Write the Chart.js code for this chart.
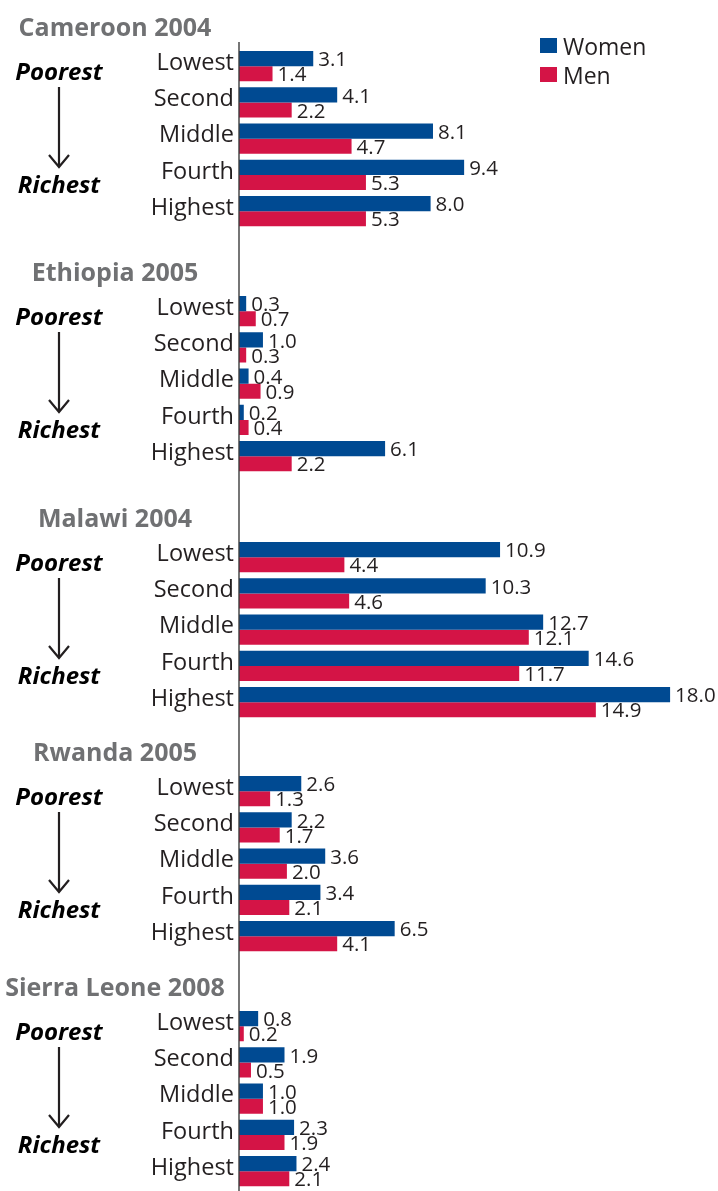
<!DOCTYPE html>
<html>
<head>
<meta charset="utf-8">
<script src="https://cdn.jsdelivr.net/npm/chart.js@4.4.1/dist/chart.umd.min.js"></script>
<style>
  html, body { margin: 0; padding: 0; background: #fff; }
  #wrap { position: relative; width: 718px; height: 1191px; overflow: hidden; }
  .block { position: absolute; left: 0; }
  .legend { position: absolute; left: 540px; top: 31px; font-family: 'Open Sans', sans-serif; font-size: 23px; color: #231f20; }
  .legend div { display: flex; align-items: center; height: 29px; }
  .legend .box { width: 17px; height: 15px; margin-right: 6px; }
</style>
</head>
<body>
<div id="wrap"></div>
<script>
// Données
const quintiles = ['Lowest', 'Second', 'Middle', 'Fourth', 'Highest'];
const countries = ['Cameroon 2004', 'Ethiopia 2005', 'Malawi 2004', 'Rwanda 2005', 'Sierra Leone 2008'];
const seriesNames = ['Women', 'Men'];

const cameroonWomen = [3.1, 4.1, 8.1, 9.4, 8.0];
const cameroonMen = [1.4, 2.2, 4.7, 5.3, 5.3];
const ethiopiaWomen = [0.3, 1.0, 0.4, 0.2, 6.1];
const ethiopiaMen = [0.7, 0.3, 0.9, 0.4, 2.2];
const malawiWomen = [10.9, 10.3, 12.7, 14.6, 18.0];
const malawiMen = [4.4, 4.6, 12.1, 11.7, 14.9];
const rwandaWomen = [2.6, 2.2, 3.6, 3.4, 6.5];
const rwandaMen = [1.3, 1.7, 2.0, 2.1, 4.1];
const sierraLeoneWomen = [0.8, 1.9, 1.0, 2.3, 2.4];
const sierraLeoneMen = [0.2, 0.5, 1.0, 1.9, 2.1];

const xTicks = [0, 20];

// Estilo
const FONT = "'Open Sans', sans-serif";
const INK = '#231f20';
const WOMEN_COLOR = '#004a92';
const MEN_COLOR = '#d41446';
const PLOT_TOP = 48;
const PLOT_HEIGHT = 181.25;

const groups = [
    { title: countries[0], women: cameroonWomen, men: cameroonMen },
    { title: countries[1], women: ethiopiaWomen, men: ethiopiaMen },
    { title: countries[2], women: malawiWomen, men: malawiMen },
    { title: countries[3], women: rwandaWomen, men: rwandaMen },
    { title: countries[4], women: sierraLeoneWomen, men: sierraLeoneMen }
];

// posição dos blocos na página
const blockTops = [0, 245, 491, 725, 960];
const blockHeights = [245, 246, 234, 235, 231];

// linha vertical do eixo, na altura toda do bloco
const axisLine = {
    id: 'axisLine',
    afterDatasetsDraw(chart, args, opts) {
        const ctx = chart.ctx;
        const x = chart.scales.x.getPixelForValue(0);
        ctx.save();
        ctx.strokeStyle = '#3c3c3c';
        ctx.lineWidth = 1.4;
        ctx.beginPath();
        ctx.moveTo(x, opts.from || 0);
        ctx.lineTo(x, chart.height);
        ctx.stroke();
        ctx.restore();
    }
};

// rótulos de valor no fim das barras
const valueLabels = {
    id: 'valueLabels',
    afterDatasetsDraw(chart) {
        const ctx = chart.ctx;
        ctx.save();
        ctx.font = '20.5px ' + FONT;
        ctx.fillStyle = INK;
        ctx.textAlign = 'left';
        ctx.textBaseline = 'middle';
        chart.data.datasets.forEach((ds, i) => {
            chart.getDatasetMeta(i).data.forEach((bar, j) => {
                ctx.fillText(ds.data[j].toFixed(1), bar.x + 5, bar.y + 2);
            });
        });
        ctx.restore();
    }
};

// título do país + Poorest -> Richest
const groupNotes = {
    id: 'groupNotes',
    afterDraw(chart, args, opts) {
        const ctx = chart.ctx;
        const top = chart.chartArea.top;
        ctx.save();
        ctx.textAlign = 'center';
        ctx.textBaseline = 'alphabetic';
        ctx.font = 'bold 25px ' + FONT;
        ctx.fillStyle = '#707173';
        ctx.fillText(opts.title, 115, top - 12);

        ctx.font = 'italic bold 24px ' + FONT;
        ctx.fillStyle = '#000';
        ctx.fillText('Poorest', 59, top + 32);
        ctx.fillText('Richest', 59, top + 145);

        ctx.strokeStyle = INK;
        ctx.lineWidth = 2.2;
        ctx.beginPath();
        ctx.moveTo(59, top + 39);
        ctx.lineTo(59, top + 119);
        ctx.moveTo(49, top + 107);
        ctx.lineTo(59, top + 119);
        ctx.lineTo(69, top + 107);
        ctx.stroke();
        ctx.restore();
    }
};

const wrap = document.getElementById('wrap');

groups.forEach((g, idx) => {
    const block = document.createElement('div');
    block.className = 'block';
    block.style.top = blockTops[idx] + 'px';
    const canvas = document.createElement('canvas');
    canvas.width = 718;
    canvas.height = blockHeights[idx];
    block.appendChild(canvas);
    wrap.appendChild(block);

    new Chart(canvas.getContext('2d'), {
        type: 'bar',
        data: {
            labels: quintiles,
            datasets: [
                { label: seriesNames[0], data: g.women, backgroundColor: WOMEN_COLOR },
                { label: seriesNames[1], data: g.men, backgroundColor: MEN_COLOR }
            ]
        },
        options: {
            indexAxis: 'y',
            responsive: false,
            animation: false,
            layout: {
                padding: { top: PLOT_TOP, bottom: blockHeights[idx] - PLOT_TOP - PLOT_HEIGHT, left: 0, right: 0 }
            },
            datasets: {
                bar: { barPercentage: 1, categoryPercentage: 0.83 }
            },
            scales: {
                x: { display: false, min: xTicks[0], max: xTicks[1] },
                y: {
                    grid: { display: false, drawTicks: false },
                    border: { display: false },
                    ticks: { color: INK, font: { family: FONT, size: 23.5 }, padding: 5, labelOffset: -3 },
                    afterFit(scale) {
                        scale.width = 239;
                        scale.paddingTop = 0;
                        scale.paddingBottom = 0;
                    }
                }
            },
            plugins: {
                legend: { display: false },
                tooltip: { enabled: false },
                axisLine: { from: idx === 0 ? 42 : 0 },
                groupNotes: { title: g.title }
            }
        },
        plugins: [axisLine, valueLabels, groupNotes]
    });
});

// legenda
const legend = document.createElement('div');
legend.className = 'legend';
legend.innerHTML = seriesNames.map((name, i) => `
    <div><span class="box" style="background:${i === 0 ? WOMEN_COLOR : MEN_COLOR}"></span>${name}</div>
`).join('');
wrap.appendChild(legend);
</script>
</body>
</html>
